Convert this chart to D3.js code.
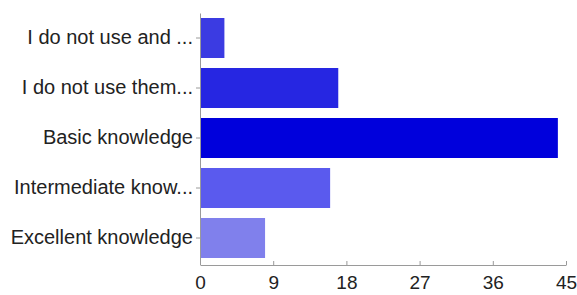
<!DOCTYPE html>
<html>
<head>
<meta charset="utf-8">
<script src="https://cdn.jsdelivr.net/npm/d3@7"></script>
<style>
  body { margin: 0; background: #fff; }
  text { font-family: "Liberation Sans", Arial, sans-serif; }
</style>
</head>
<body>
<svg id="chart" width="577" height="295"></svg>
<script>
// data
var categories = ["I do not use and ...", "I do not use them...", "Basic knowledge", "Intermediate know...", "Excellent knowledge"];
var counts = [3, 17, 44, 16, 8];
var barColors = ["#3b3be2", "#2626e2", "#0000dc", "#5a5aee", "#8080ec"];
var xTicks = [0, 9, 18, 27, 36, 45];

var svg = d3.select("#chart");
var margin = {top: 13, right: 11, bottom: 30, left: 200};
var width = +svg.attr("width") - margin.left - margin.right;
var height = +svg.attr("height") - margin.top - margin.bottom;

var g = svg.append("g")
  .attr("transform", "translate(" + margin.left + "," + margin.top + ")");

// scales
var xScale = d3.scaleLinear().domain([0, 45]).range([0, width]);
var yScale = d3.scaleBand()
  .domain(categories)
  .range([0, height - 2])
  .paddingInner(0.2)
  .paddingOuter(0.1);

// bars
g.selectAll("rect.bar")
  .data(categories)
  .enter().append("rect")
  .attr("class", "bar")
  .attr("x", xScale(0))
  .attr("y", d => yScale(d))
  .attr("width", (d, i) => xScale(counts[i]) - xScale(0))
  .attr("height", yScale.bandwidth())
  .attr("fill", (d, i) => barColors[i]);

// x axis (ticks pointing up)
var xAxis = g.append("g")
  .attr("transform", "translate(0," + height + ")")
  .call(d3.axisBottom(xScale).tickValues(xTicks).tickSize(-4).tickSizeOuter(0).tickPadding(11));
xAxis.select(".domain").attr("stroke", "#9a9a9a");
xAxis.selectAll(".tick line").attr("stroke", "#9a9a9a");
xAxis.selectAll(".tick text")
  .attr("font-size", "19px")
  .attr("fill", "#222")
  .attr("font-family", "Liberation Sans, Arial, sans-serif");

// y axis
var yAxis = g.append("g")
  .call(d3.axisLeft(yScale).tickSize(4).tickSizeOuter(0).tickPadding(3));
yAxis.select(".domain").attr("stroke", "#9a9a9a");
yAxis.selectAll(".tick line").attr("stroke", "#9a9a9a");
yAxis.selectAll(".tick text")
  .attr("font-size", "20px")
  .attr("fill", "#222")
  .attr("font-family", "Liberation Sans, Arial, sans-serif");
</script>
</body>
</html>
